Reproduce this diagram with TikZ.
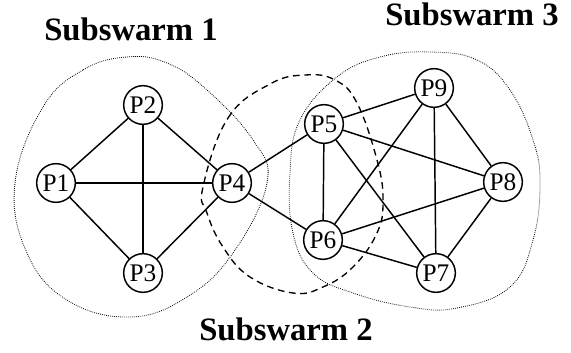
\documentclass[tikz,border=0pt]{standalone}
\usepackage{fontspec}
\setmainfont{Liberation Serif}
\begin{document}
\begin{tikzpicture}[x=0.75pt,y=-0.75pt,
  pnode/.style={circle,draw,line width=1.1pt,minimum size=29pt,inner sep=0pt,fill=white,font=\fontsize{19}{21}\selectfont},
  link/.style={line width=1.1pt},
  swarmlabel/.style={anchor=base,font=\fontsize{24.5}{28}\selectfont\bfseries},
  dotblob/.style={line width=0.6pt,dash pattern=on 0.6pt off 0.9pt},
  dashblob/.style={line width=1pt,dash pattern=on 5pt off 3.5pt}]
\useasboundingbox (0,0) rectangle (571,353);
% group outlines
\draw[dotblob] plot[smooth cycle,tension=0.7] coordinates {(127,57) (83,70) (43,107) (15,183) (27,253) (67,300) (130,317) (187,297) (233,253) (267,183) (253,140) (207,90) (167,63)};
\draw[dotblob] plot[smooth cycle,tension=0.7] coordinates {(430,52) (477,60) (510,90) (533,140) (540,183) (533,240) (510,287) (457,308) (410,307) (353,293) (313,273) (293,233) (290,173) (300,120) (337,77) (380,57)};
\draw[dashblob] plot[smooth cycle,tension=0.7] coordinates {(203,187) (228,118) (270,84) (305,75) (335,80) (357,103) (377,160) (383,200) (377,233) (353,267) (323,287) (293,293) (250,277) (223,247) (207,213)};
% nodes
\node[pnode] (p1) at (56,183) {P1};
\node[pnode] (p2) at (143,105) {P2};
\node[pnode] (p3) at (143,273) {P3};
\node[pnode] (p4) at (232,183) {P4};
\node[pnode] (p5) at (324,124) {P5};
\node[pnode] (p6) at (323,240) {P6};
\node[pnode] (p7) at (436,273) {P7};
\node[pnode] (p8) at (503,182) {P8};
\node[pnode] (p9) at (434,88) {P9};
% links
\foreach \a/\b in {p1/p2,p1/p3,p1/p4,p2/p3,p2/p4,p3/p4,p4/p5,p4/p6,p5/p6,p5/p9,p5/p8,p5/p7,p6/p9,p6/p8,p6/p7,p9/p7,p9/p8,p8/p7}
  \draw[link] (\a) -- (\b);
% labels
\node[swarmlabel] (l1) at (131,41) {Subswarm 1};
\node[swarmlabel] (l3) at (472,26) {Subswarm 3};
\node[swarmlabel] (l2) at (286,340) {Subswarm 2};
\end{tikzpicture}
\end{document}
